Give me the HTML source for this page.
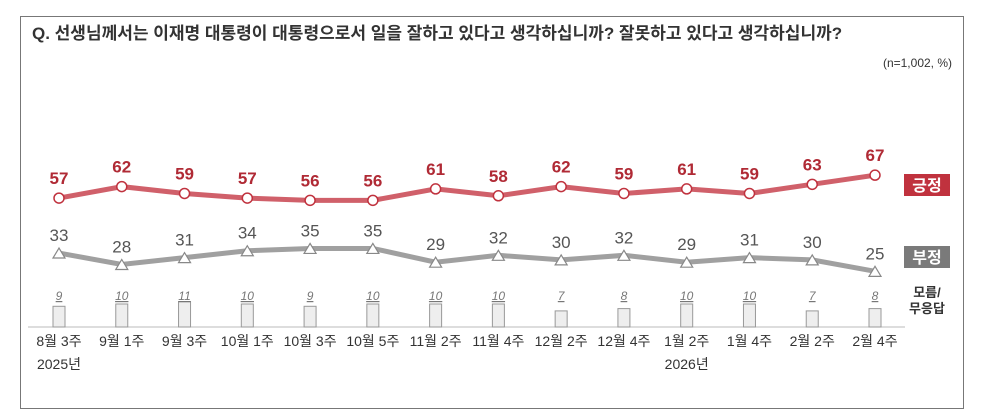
<!DOCTYPE html>
<html><head><meta charset="utf-8">
<style>
body{margin:0;background:#fff;width:983px;height:419px;overflow:hidden;font-family:"Liberation Sans","Noto Sans CJK KR",sans-serif}
#frame{position:absolute;left:20px;top:16px;width:944px;height:393px;border:1.5px solid #777;box-sizing:border-box}
</style></head><body>
<div id="frame"></div>
<svg id="c" width="983" height="419" style="position:absolute;left:0;top:0">
<text x="32" y="39" font-size="17" font-weight="bold" fill="#333">Q. 선생님께서는 이재명 대통령이 대통령으로서 일을 잘하고 있다고 생각하십니까? 잘못하고 있다고 생각하십니까?</text>
<text x="952" y="67" font-size="12" fill="#333" text-anchor="end">(n=1,002, %)</text>
<line x1="28" y1="327" x2="905" y2="327" stroke="#bbb" stroke-width="1"/>
<rect x="904" y="174" width="46" height="22" fill="#c0323e"/>
<text x="927" y="191" font-size="16" font-weight="bold" fill="#fff" text-anchor="middle">긍정</text>
<rect x="904" y="246" width="46" height="22" fill="#7a7a7a"/>
<text x="927" y="263" font-size="16" font-weight="bold" fill="#fff" text-anchor="middle">부정</text>
<text x="927" y="297" font-size="13" font-weight="bold" fill="#333" text-anchor="middle">모름/</text>
<text x="927" y="313" font-size="13" font-weight="bold" fill="#333" text-anchor="middle">무응답</text>
<g id="g"></g>
</svg>
<script>
const categories=["8월 3주","9월 1주","9월 3주","10월 1주","10월 3주","10월 5주","11월 2주","11월 4주","12월 2주","12월 4주","1월 2주","1월 4주","2월 2주","2월 4주"];
const yearLabels=["2025년","","","","","","","","","","2026년","","",""];
const positive=[57,62,59,57,56,56,61,58,62,59,61,59,63,67];
const negative=[33,28,31,34,35,35,29,32,30,32,29,31,30,25];
const dontKnow=[9,10,11,10,9,10,10,10,7,8,10,10,7,8];
const NS="http://www.w3.org/2000/svg";
const g=document.getElementById('g');
function x(i){return 59+i*(875-59)/(categories.length-1);}
function y(v){return 328.6-v*2.29;}
function bh(v){return v*2.3;}
function mk(t,a,txt){const e=document.createElementNS(NS,t);for(const k in a)e.setAttribute(k,a[k]);if(txt!=null)e.textContent=txt;g.appendChild(e);return e;}
dontKnow.forEach((v,i)=>{
 const r=mk('rect',{x:x(i)-6,y:327-bh(v),width:12,height:bh(v),fill:'#eee',stroke:'#999','stroke-width':1});
 
 
 const t=mk('text',{x:x(i),y:300,'font-size':12,'font-style':'italic','text-decoration':'underline',fill:'#777','text-anchor':'middle'},String(v));
 
 
});
const pl=mk('polyline',{points:positive.map((v,i)=>x(i)+','+y(v)).join(' '),fill:'none',stroke:'#d0606a','stroke-width':5});


const nl=mk('polyline',{points:negative.map((v,i)=>x(i)+','+y(v)).join(' '),fill:'none',stroke:'#a0a0a0','stroke-width':5});


positive.forEach((v,i)=>{
 const c=mk('circle',{cx:x(i),cy:y(v),r:5,fill:'#fff',stroke:'#c0323e','stroke-width':1.5});
 
 
 const t=mk('text',{x:x(i),y:y(v)-14,'font-size':17,'font-weight':'bold',fill:'#b02a35','text-anchor':'middle'},String(v));
 
 
});
negative.forEach((v,i)=>{
 const px=x(i),py=y(v);
 const p=mk('polygon',{points:`${px},${py-5} ${px-6},${py+5} ${px+6},${py+5}`,fill:'#fff',stroke:'#888','stroke-width':1.2});
 
 
 const t=mk('text',{x:px,y:py-12,'font-size':17,fill:'#555','text-anchor':'middle'},String(v));
 
 
});
categories.forEach((c,i)=>{
 const t=mk('text',{x:x(i),y:346,'font-size':14,fill:'#333','text-anchor':'middle'},c);
 
 
 if(yearLabels[i]){
  const yt=mk('text',{x:x(i),y:369,'font-size':14,fill:'#333','text-anchor':'middle'},yearLabels[i]);
  
  
 }
});
</script>
</body></html>
